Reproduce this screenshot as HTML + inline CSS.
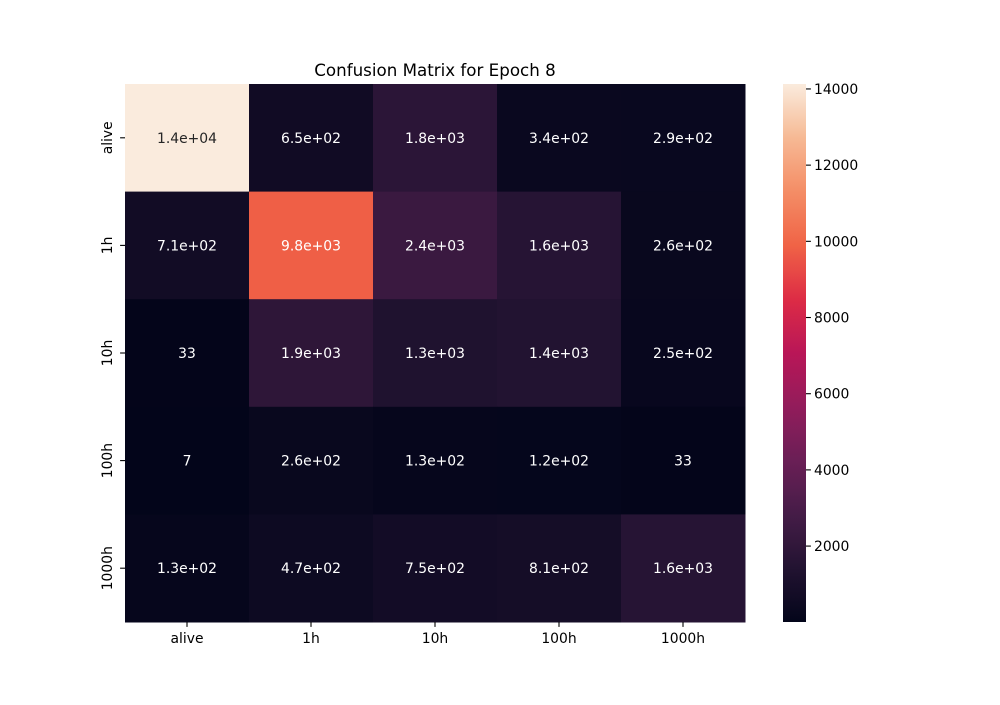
<!DOCTYPE html>
<html><head><meta charset="utf-8"><style>body{margin:0;background:#fff}svg{font-family:"DejaVu Sans","Liberation Sans",sans-serif}</style></head>
<body>
<svg id="c" width="1000" height="700"></svg>
<script>
const xLabels=["alive","1h","10h","100h","1000h"];
const yLabels=["alive","1h","10h","100h","1000h"];
const row0=[14130,650,1800,340,290];
const row1=[710,9800,2400,1600,260];
const row2=[33,1900,1300,1400,250];
const row3=[7,260,130,120,33];
const row4=[130,470,750,810,1600];
const cbTicks=[2000,4000,6000,8000,10000,12000,14000];
const matrix=[row0,row1,row2,row3,row4];
const NS="http://www.w3.org/2000/svg";
const svg=document.getElementById('c');
const X0=125,X1=745,Y0=84,Y1=622;
const flat=matrix.flat();const vmin=Math.min(...flat),vmax=Math.max(...flat);
const cw=(X1-X0)/xLabels.length,ch=(Y1-Y0)/yLabels.length;
const stops=[[0,"#03051A"],[.1,"#221331"],[.2,"#451C47"],[.3,"#6A1F56"],[.4,"#921C5B"],[.5,"#B91657"],[.6,"#DD2C45"],[.7,"#F06346"],[.8,"#F48D66"],[.9,"#F6B994"],[1,"#FAEBDD"]];
function hex(h){return [1,3,5].map(i=>parseInt(h.substr(i,2),16));}
function cmap(t){t=Math.max(0,Math.min(1,t));for(let i=1;i<stops.length;i++){if(t<=stops[i][0]){const a=hex(stops[i-1][1]),b=hex(stops[i][1]);const f=(t-stops[i-1][0])/(stops[i][0]-stops[i-1][0]);return a.map((v,k)=>Math.round(v+(b[k]-v)*f));}}return hex(stops[stops.length-1][1]);}
function norm(v){return (v-vmin)/(vmax-vmin);}
function fmt(v){if(v===0)return "0";const e=Math.floor(Math.log10(Math.abs(v)));if(e<2)return String(Math.round(v));const m=(v/Math.pow(10,e)).toFixed(1);return m+"e+"+(e<10?"0"+e:e);}
function el(t,a,txt){const e=document.createElementNS(NS,t);for(const k in a)e.setAttribute(k,a[k]);if(txt!==undefined)e.textContent=txt;svg.appendChild(e);return e;}
function lum(c){const l=c.map(v=>{v/=255;return v<=0.03928?v/12.92:Math.pow((v+0.055)/1.055,2.4);});return 0.2126*l[0]+0.7152*l[1]+0.0722*l[2];}
matrix.forEach((row,r)=>row.forEach((v,c)=>{
 const col=cmap(norm(v));
 const rc=el('rect',{x:X0+c*cw,y:Y0+r*ch,width:cw+0.5,height:ch+0.5,fill:`rgb(${col})`});
 
 
 const t=el('text',{x:X0+(c+.5)*cw,y:Y0+(r+.5)*ch+5,'text-anchor':'middle','font-size':13.9,fill:lum(col)>0.408?'#262626':'#fff'},fmt(v));
 
 
}));
xLabels.forEach((l,i)=>{const x=X0+(i+.5)*cw;el('line',{x1:x,x2:x,y1:Y1,y2:Y1+4.9,stroke:'#000','stroke-width':1.1});
 const t=el('text',{x:x,y:Y1+21,'text-anchor':'middle','font-size':13.9},l);
 });
yLabels.forEach((l,i)=>{const y=Y0+(i+.5)*ch;el('line',{x1:X0-4.9,x2:X0,y1:y,y2:y,stroke:'#000','stroke-width':1.1});
 const t=el('text',{x:0,y:0,'text-anchor':'middle','font-size':13.9,transform:`translate(${X0-13},${y}) rotate(-90)`},l);
 });
const tt=el('text',{x:435,y:76,'text-anchor':'middle','font-size':16.7},'Confusion Matrix for Epoch 8');

const CX=783,CW=23;const defs=el('defs',{});
const g=document.createElementNS(NS,'linearGradient');g.setAttribute('id','cb');g.setAttribute('x1',0);g.setAttribute('y1',1);g.setAttribute('x2',0);g.setAttribute('y2',0);defs.appendChild(g);
for(let i=0;i<=40;i++){const s=document.createElementNS(NS,'stop');s.setAttribute('offset',i/40);s.setAttribute('stop-color',`rgb(${cmap(i/40)})`);g.appendChild(s);}
const cb=el('rect',{x:CX,y:Y0,width:CW,height:Y1-Y0,fill:'url(#cb)'});

cbTicks.forEach(v=>{const y=Y1-norm(v)*(Y1-Y0);el('line',{x1:CX+CW,x2:CX+CW+4.9,y1:y,y2:y,stroke:'#000','stroke-width':1.1});
 const t=el('text',{x:CX+CW+8,y:y+5,'font-size':13.9},String(v));
 });
</script>
</body></html>
